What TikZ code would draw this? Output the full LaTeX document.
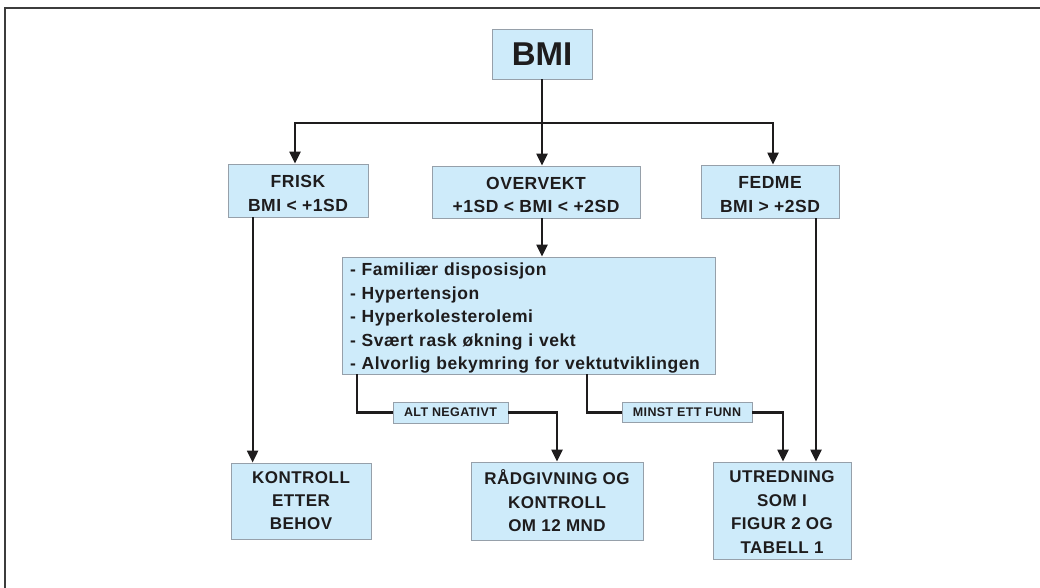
\documentclass[tikz,border=0pt]{standalone}
\usepackage{fontspec}
\setmainfont{Liberation Sans}[LetterSpace=3]
\newfontfamily\bmifont{Liberation Sans}
\usetikzlibrary{arrows.meta,calc}
\definecolor{boxfill}{RGB}{206,235,250}
\definecolor{boxline}{RGB}{150,160,170}
\definecolor{ink}{RGB}{30,28,29}
\definecolor{framec}{RGB}{60,60,60}
\newcommand{\topstrut}[1]{\rule{0pt}{#1}}
\begin{document}
\begin{tikzpicture}[x=1pt,y=-1pt,
  box/.style={fill=boxfill,draw=boxline,line width=0.8pt,inner sep=0pt,align=center,text=ink,
    font=\fontsize{17.5}{23.5}\selectfont\bfseries},
  lbl/.style={fill=boxfill,draw=boxline,line width=0.6pt,inner sep=0pt,text=ink,
    font=\fontsize{12.5}{14}\selectfont\bfseries},
  conn/.style={line width=2.2pt,draw=ink},
  arr/.style={conn,-{Triangle[length=12pt,width=11pt]}}]
\useasboundingbox (0,0) rectangle (1040,587);
\fill[white] (0,0) rectangle (1040,587);
\draw[framec,line width=2.2pt] (5,600) -- (5,8) -- (1050,8);

\node[box,minimum width=100,minimum height=50,font=\bmifont\fontsize{33}{36}\selectfont\bfseries] (bmi) at (542,54) {BMI};
\node[box,minimum width=140,minimum height=53] (frisk) at (298,190.5) {\topstrut{18.5pt}FRISK\\BMI < +1SD};
\node[box,minimum width=208,minimum height=52] (over) at (536,192) {\topstrut{18.5pt}OVERVEKT\\+1SD < BMI < +2SD};
\node[box,minimum width=138,minimum height=53] (fedme) at (770,191.5) {\topstrut{18.5pt}FEDME\\BMI > +2SD};
\node[box,minimum width=373,minimum height=117,align=left,text width=357,font=\fontsize{17.5}{23.5}\selectfont\bfseries] (list) at (528.5,315.5)
  {\topstrut{18pt}- Familiær disposisjon\\- Hypertensjon\\- Hyperkolesterolemi\\- Svært rask økning i vekt\\- Alvorlig bekymring for vektutviklingen};
\node[box,minimum width=140,minimum height=76,font=\fontsize{17}{23}\selectfont\bfseries] (kontroll) at (301,501) {KONTROLL\\ETTER\\BEHOV};
\node[box,minimum width=172,minimum height=78,font=\fontsize{17}{23.5}\selectfont\bfseries] (rad) at (557,501) {\topstrut{15pt}RÅDGIVNING OG\\KONTROLL\\OM 12 MND};
\node[box,minimum width=138,minimum height=97,font=\fontsize{17}{23.7}\selectfont\bfseries] (utred) at (782,510.5) {\topstrut{15pt}UTREDNING\\SOM I\\FIGUR 2 OG\\TABELL 1};
\node[lbl,minimum width=115,minimum height=21] (alt) at (450.5,412.5) {ALT NEGATIVT};
\node[lbl,minimum width=130,minimum height=20] (minst) at (687,412.5) {MINST ETT FUNN};

\coordinate (hj) at (542,123);
\coordinate (la) at (357,412.5);
\coordinate (ra) at (587,412.5);

\draw[conn] (bmi.south) -- (hj);
\draw[arr] (hj) -| ([xshift=-3]frisk.north);
\draw[arr] (hj) -| ([xshift=3]fedme.north);
\draw[arr] (hj) -- (hj |- over.north);
\draw[arr] (over.south -| hj) -- (hj |- list.north);
\draw[arr] ([xshift=25]frisk.south west) -- ([xshift=25]frisk.south west |- kontroll.north);
\draw[conn] (la |- list.south) -- (la) -- (alt.west);
\draw[arr] (alt.east) -| (rad.north);
\draw[conn] (ra |- list.south) -- (ra) -- (minst.west);
\draw[arr] (minst.east) -| ([xshift=1]utred.north);
\draw[arr] ([xshift=46]fedme.south) -- ([xshift=46]fedme.south |- utred.north);
\end{tikzpicture}
\end{document}
